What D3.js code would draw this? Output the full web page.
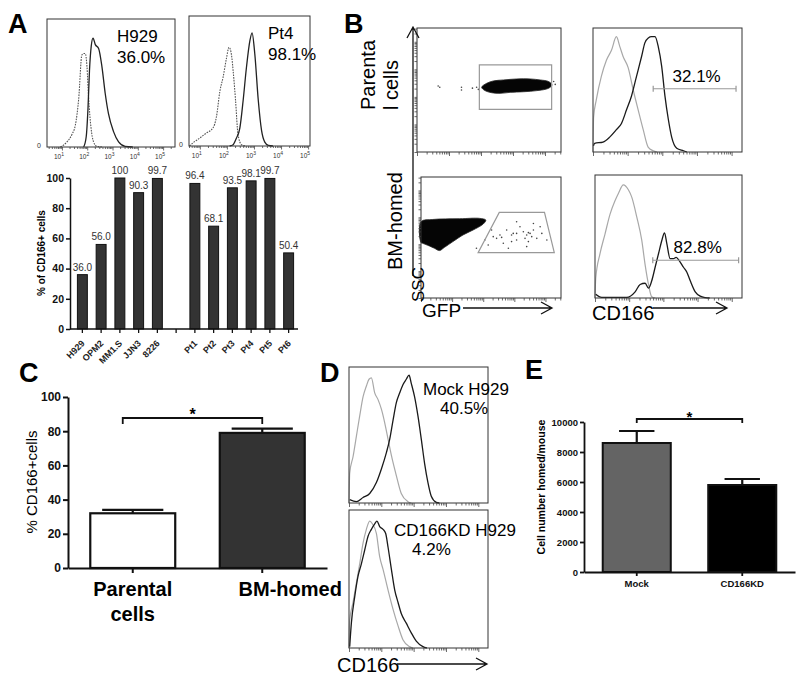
<!DOCTYPE html>
<html><head><meta charset="utf-8">
<script src="https://cdn.jsdelivr.net/npm/d3@7"></script>
<style>
body{margin:0;background:#fff}
svg{display:block}
text{font-family:"Liberation Sans",Arial,Helvetica,sans-serif}
</style>
</head><body>
<svg id="c" width="800" height="680"></svg>
<script>
// ================= DATA =================
// Panel A histograms  [log10 fluorescence, % of max]
const aH929Iso   = [[0.94,0],[1.2,4],[1.4,10],[1.53,17],[1.66,37],[1.79,72],[1.86,73],[1.92,73],[1.99,63],[2.05,40],[2.15,15],[2.25,4],[2.38,0.5],[2.6,0]];
const aH929CD166 = [[1.86,0],[1.96,8],[2.03,30],[2.09,60],[2.16,79],[2.23,85],[2.32,80],[2.45,77],[2.58,63],[2.71,42],[2.84,26],[3.04,12],[3.24,4],[3.5,0.5],[3.8,0]];
const aPt4Iso    = [[0.62,0],[0.75,2.5],[0.99,6],[1.24,10],[1.49,14],[1.61,22],[1.74,42],[1.86,53],[1.98,67],[2.08,76],[2.17,70],[2.23,58],[2.32,35],[2.41,9],[2.54,1],[2.7,0]];
const aPt4CD166  = [[2.1,0],[2.23,1],[2.35,6],[2.48,14],[2.6,35],[2.72,60],[2.85,81],[2.93,87],[3.03,71],[3.16,35],[3.28,12],[3.4,3],[3.53,0.5],[3.7,0]];
const aHistTickPowers = [1,2,3,4,5];
const aHistTexts = [["H929","36.0%"],["Pt4","98.1%"]];

// Panel A bar chart
const aBarCategories = ["H929","OPM2","MM1.S","JJN3","8226","Pt1","Pt2","Pt3","Pt4","Pt5","Pt6"];
const aBarValues     = [36.0,56.0,100,90.3,99.7,96.4,68.1,93.5,98.1,99.7,50.4];
const aBarLabels     = ["36.0","56.0","100","90.3","99.7","96.4","68.1","93.5","98.1","99.7","50.4"];
const aBarTicks      = [0,20,40,60,80,100];

// Panel B dot plots (x: GFP, y: SSC, both 0-100 channel %)
const bTopBlob = [[44.9,52.2],[48.4,55.4],[53,57.3],[60,58.1],[69.3,58.9],[78.6,58.9],[85.6,58.1],[91.4,56.8],[93.7,54.1],[91.4,51.4],[83.3,49.5],[74,48.6],[64.7,48.1],[57.7,47.3],[51.9,47.8],[47.2,49.5]];
const bTopDots = [[15.8,52.2],[14.7,53.2],[30.9,52.2],[30.9,50],[41.4,52.2],[94.9,56.8],[42.6,50.5],[38.5,51.5],[96,54.5]];
const bTopGate = [[43.3,70.3],[93.5,70.3],[93.5,34.3],[43.3,34.3]];
const bBotBlob = [[0,63],[8.4,64.9],[27.6,65.5],[42,65.8],[46.3,64.4],[44.4,61.1],[37.2,56.2],[30,52.1],[22.8,46.6],[16.8,41.9],[13.2,39.2],[9.6,41.1],[6,43],[1.2,45.2],[0,45.8]];
const bBotDots = [[51.6,50.7],[54,49.3],[56.4,52.1],[61.2,56.2],[65.9,53.4],[68.3,47.9],[73.1,54.8],[75.5,52.1],[77.9,53.4],[80.3,56.2],[82.7,49.3],[86.3,53.4],[70.7,58.9],[58.8,45.2],[64.7,46.6],[76.7,46.6],[48,43.8],[89.9,47.9],[50.4,56.2],[68.3,63],[80.3,61.6],[85.1,58.9],[62.4,41.1],[75.5,42.5],[45.6,47.9],[39.6,41.1],[79.1,50.7],[74.3,49.3],[76.7,54],[57.6,50.1],[64.7,52.1],[68.3,53.4]];
const bBotGate = [[55.9,70.7],[88.2,70.7],[95.2,37.5],[40.8,37.5]];
const bRowLabels = [["Parenta","l cells"],["BM-homed"]];

// Panel B histograms (x: CD166 channel %, y: % of max)
const bTopIso   = [[0,0],[0.4,28],[2.2,42],[5.6,61],[9,74],[12.4,82],[15.7,93],[18,85],[20.2,77],[23.6,68],[27,50],[30.3,34],[33.7,18],[37,4],[40.4,1],[43,0]];
const bTopCD166 = [[0.3,5],[1.1,7],[6.7,8],[11.2,12],[15.7,18],[19.1,23],[22.5,34],[25.8,45],[29.2,61],[32.6,77],[34.8,88],[37.1,92],[39.3,93],[41.6,93],[43.8,85],[46.1,69],[48.3,45],[50.6,26],[52.8,12],[56.2,3],[60.7,1],[63,0]];
const bBotIso   = [[0,0],[0.5,16],[3.4,36],[6.8,52],[10.2,68],[13.6,79],[15.9,85],[19.3,92],[22.7,88],[25,82],[28.4,66],[31.8,47],[34.1,27],[36.4,11],[38.6,1],[41,0]];
const bBotCD166 = [[0.5,3],[4.5,0.5],[21.6,0.5],[27.3,5],[30.7,11],[34.1,12],[36.4,8],[38.6,14],[40.9,25],[43.2,36],[45.5,47],[47.3,53],[48.9,44],[51.1,32],[53.4,32],[55.2,33],[57.5,30],[60.2,25],[62.5,21],[64.8,14],[68.2,5],[71.6,1.5],[75,0.3],[78,0]];
const bGates    = [[40.4,96,51],[39.3,97.7,30.7]];
const bPercents = ["32.1%","82.8%"];

// Panel C
const cCategories = ["Parental","BM-homed"];
const cValues = [32, 79];
const cErrors = [2, 2.5];
const cTicks  = [0,20,40,60,80,100];

// Panel D histograms
const dTopIso   = [[0,0],[0.5,22],[2.9,34],[5.3,49],[7.7,64],[10.1,78],[12.5,86],[14.4,91],[16.1,92],[18.5,81],[20.9,76],[23.3,69],[25.7,59],[28.1,47],[30.5,35],[34.1,20],[37.6,7],[42.4,1],[44.8,0]];
const dTopCD166 = [[0.5,2.5],[5.3,1],[10.1,4],[14.9,7],[19.7,15],[23.3,25],[26.9,37],[29.3,47],[31.7,61],[34.1,74],[36.5,81],[38.8,87],[41.2,91],[43.2,94],[44.8,88],[47.2,78],[49.6,64],[52,47],[54.4,29],[56.8,15],[59.2,5],[62.8,0.5],[65,0]];
const dBotIso   = [[0,0],[0.5,20],[2.9,33],[5.3,47],[7.7,61],[10.1,76],[12.5,86],[14.9,92],[16.8,90],[19.7,83],[22.1,66],[24.5,57],[28.1,42],[31.7,28],[35.3,16],[38.8,6],[43.6,1],[46,0]];
const dBotCD166 = [[0.5,1],[1.7,18],[4.1,37],[6.5,52],[8.9,61],[11.3,71],[13.7,81],[16.1,86],[18.5,90],[20.1,92],[22.1,88],[24.5,86],[26.4,83],[28.1,73],[30.5,57],[32.9,42],[35.3,33],[37.6,25],[41.2,18],[44.8,11],[48.4,5],[53.2,1],[56,0]];
const dTexts = [["Mock H929","40.5%"],["CD166KD H929","4.2%"]];

// Panel E
const eCategories = ["Mock","CD166KD"];
const eValues = [8600, 5800];
const eErrors = [800, 400];
const eTicks  = [0,2000,4000,6000,8000,10000];

// ================= DRAW =================
const svg = d3.select("#c");
const FONT = '"Liberation Sans",Arial,sans-serif';

function label(t,x,y,size,opt={}){
  const el = svg.append("text").attr("x",x).attr("y",y).attr("font-size",size).text(t);
  if(opt.bold) el.attr("font-weight","bold");
  if(opt.anchor) el.attr("text-anchor",opt.anchor);
  if(opt.fill) el.attr("fill",opt.fill);
  return el;
}
function rlabel(t,x,y,size,opt={}){
  const el = svg.append("text").attr("transform",`translate(${x},${y}) rotate(-90)`).attr("font-size",size).text(t);
  if(opt.bold) el.attr("font-weight","bold");
  el.attr("text-anchor",opt.anchor||"start");
  return el;
}
function arrowH(x0,x1,y){
  svg.append("path").attr("d",`M${x0},${y}H${x1}M${x1-11},${y-6}L${x1},${y}L${x1-11},${y+6}`).attr("fill","none").attr("stroke","#111").attr("stroke-width",1.3);
}
function arrowV(x,y0,y1){
  svg.append("path").attr("d",`M${x},${y0}V${y1}M${x-6},${y1+11}L${x},${y1}L${x+6},${y1+11}`).attr("fill","none").attr("stroke","#111").attr("stroke-width",1.3);
}
function minorTicksBottom(x0,x1,y,lo,hi,size){
  const s = d3.scaleLog().domain([Math.pow(10,lo),Math.pow(10,hi)]).range([x0,x1]);
  const g = svg.append("g").attr("transform",`translate(0,${y})`)
    .call(d3.axisBottom(s).tickFormat("").tickSizeOuter(0).tickSize(size||2.5));
  g.select(".domain").remove();
  g.selectAll("line").attr("stroke","#444").attr("stroke-width",0.8);
  g.selectAll(".tick").filter(d=>Math.abs(Math.log10(d)-Math.round(Math.log10(d)))<1e-6).select("line").attr("y2",(size||2.5)+1.5);
  return s;
}
function minorTicksLeft(x,y0,y1,lo,hi){
  const s = d3.scaleLog().domain([Math.pow(10,lo),Math.pow(10,hi)]).range([y1,y0]);
  const g = svg.append("g").attr("transform",`translate(${x},0)`)
    .call(d3.axisLeft(s).tickFormat("").tickSizeOuter(0).tickSize(2.5));
  g.select(".domain").remove();
  g.selectAll("line").attr("stroke","#444").attr("stroke-width",0.8);
}
function histogram(box, xDomain, series){
  const x = d3.scaleLinear().domain(xDomain).range([box.x0,box.x1]);
  const y = d3.scaleLinear().domain([0,100]).range([box.y1,box.y0]);
  const line = d3.line().x(d=>x(d[0])).y(d=>y(d[1])).curve(d3.curveMonotoneX);
  series.forEach(s=>{
    svg.append("path").datum(s.data).attr("d",line).attr("fill","none")
      .attr("stroke",s.color).attr("stroke-width",s.w||1.2).attr("stroke-dasharray",s.dash||null);
  });
  svg.append("rect").attr("x",box.x0).attr("y",box.y0).attr("width",box.x1-box.x0).attr("height",box.y1-box.y0)
    .attr("fill","none").attr("stroke","#333").attr("stroke-width",1);
  return {x,y};
}

// ---------- panel letters ----------
label("A",8,33,27,{bold:true});
label("B",344,33,27,{bold:true});
label("C",19,382,27,{bold:true});
label("D",320,382,27,{bold:true});
label("E",525,379,27,{bold:true});

// ---------- Panel A histograms ----------
[
  {box:{x0:47,x1:175,y0:19,y1:147}, dom:[0.41,5.47], iso:aH929Iso, pos:aH929CD166, txt:aHistTexts[0], tx:117},
  {box:{x0:189,x1:310,y0:16,y1:146}, dom:[0.6,5.07], iso:aPt4Iso, pos:aPt4CD166, txt:aHistTexts[1], tx:268}
].forEach(p=>{
  histogram(p.box,p.dom,[
    {data:p.iso,color:"#555",dash:"1.6,1.1",w:1.1},
    {data:p.pos,color:"#222",w:1.3}
  ]);
  const ls = minorTicksBottom(p.box.x0,p.box.x1,p.box.y1,p.dom[0],p.dom[1],2);
  aHistTickPowers.forEach(k=>{
    const xx = ls(Math.pow(10,k));
    const t = svg.append("text").attr("x",xx-3).attr("y",p.box.y1+12).attr("font-size",6.5).attr("fill","#333").attr("text-anchor","middle").text("10");
    t.append("tspan").attr("font-size",5).attr("dy",-3).text(k);
  });
  label("0",p.box.x0-6,p.box.y1+1,7,{anchor:"end",fill:"#333"});
  label(p.txt[0],p.tx,p.box.y0+23,17);
  label(p.txt[1],p.tx,p.box.y0+44,17);
});

// ---------- Panel A bar chart ----------
const aSlots = [...aBarCategories.slice(0,5),"gap",...aBarCategories.slice(5)];
const axb = d3.scaleBand().domain(aSlots).range([73,298]).paddingInner(0.47).paddingOuter(0.235);
const ayb = d3.scaleLinear().domain([0,100]).range([329,178]);
const aBarData = aBarCategories.map((c,i)=>({c,v:aBarValues[i],l:aBarLabels[i]}));
svg.append("g").selectAll("rect").data(aBarData).join("rect")
  .attr("x",d=>axb(d.c)).attr("width",axb.bandwidth()).attr("y",d=>ayb(d.v)).attr("height",d=>329-ayb(d.v))
  .attr("fill","#333").attr("stroke","#111").attr("stroke-width",1);
svg.append("g").selectAll("text").data(aBarData).join("text")
  .attr("x",d=>axb(d.c)+axb.bandwidth()/2).attr("y",d=>ayb(d.v)-4).attr("text-anchor","middle")
  .attr("font-size",10).attr("fill","#333").text(d=>d.l);
const gAy = svg.append("g").attr("transform","translate(70,0)")
  .call(d3.axisLeft(ayb).tickValues(aBarTicks).tickSize(4).tickSizeOuter(0).tickPadding(2));
gAy.selectAll("text").attr("font-size",10.5).attr("font-weight","bold").attr("fill","#111").attr("font-family",FONT);
gAy.selectAll("path,line").attr("stroke","#111").attr("stroke-width",1.5);
const gAx = svg.append("g").attr("transform","translate(0,329)")
  .call(d3.axisBottom(axb).tickSize(4).tickSizeOuter(0).tickFormat(""));
gAx.select(".domain").remove();
gAx.selectAll("line").attr("stroke","#111").attr("stroke-width",1.3);
svg.append("line").attr("x1",70).attr("x2",298).attr("y1",329).attr("y2",329).attr("stroke","#111").attr("stroke-width",1.5);
aBarCategories.forEach(c=>{
  svg.append("text").attr("transform",`translate(${axb(c)+axb.bandwidth()/2+3},344) rotate(-45)`)
    .attr("text-anchor","end").attr("font-size",9).attr("font-weight","bold").attr("fill","#222").text(c);
});
rlabel("% of CD166+ cells",45,253,10,{bold:true,anchor:"middle"});

// ---------- Panel B dot plots ----------
[
  {box:{x0:417,x1:561,y0:28,y1:152}, blob:bTopBlob, dots:bTopDots, gate:bTopGate},
  {box:{x0:421,x1:561,y0:177,y1:298}, blob:bBotBlob, dots:bBotDots, gate:bBotGate}
].forEach(p=>{
  const x = d3.scaleLinear().domain([0,100]).range([p.box.x0,p.box.x1]);
  const y = d3.scaleLinear().domain([0,100]).range([p.box.y1,p.box.y0]);
  svg.append("path").datum(p.blob).attr("d",d3.line().x(d=>x(d[0])).y(d=>y(d[1])).curve(d3.curveCatmullRomClosed))
    .attr("fill","#050505").attr("stroke","#222").attr("stroke-width",0.8);
  svg.append("g").selectAll("circle").data(p.dots).join("circle")
    .attr("cx",d=>x(d[0])).attr("cy",d=>y(d[1])).attr("r",0.8).attr("fill","#444");
  svg.append("path").datum(p.gate).attr("d",d3.line().x(d=>x(d[0])).y(d=>y(d[1])).curve(d3.curveLinearClosed))
    .attr("fill","none").attr("stroke","#999").attr("stroke-width",1.2);
  svg.append("rect").attr("x",p.box.x0).attr("y",p.box.y0).attr("width",p.box.x1-p.box.x0).attr("height",p.box.y1-p.box.y0)
    .attr("fill","none").attr("stroke","#333").attr("stroke-width",1);
  minorTicksBottom(p.box.x0,p.box.x1,p.box.y1,0,4.5,2.5);
  minorTicksLeft(p.box.x0,p.box.y0,p.box.y1,0,4.5);
});
arrowV(413,276,27);
arrowH(463,552,308);
rlabel(bRowLabels[0][0],375,110,20);
rlabel(bRowLabels[0][1],398,110,20);
rlabel(bRowLabels[1][0],402,270,20);
rlabel("SSC",424,302,17);
label("GFP",422,317,19);

// ---------- Panel B histograms ----------
[
  {box:{x0:593,x1:742,y0:28,y1:152}, iso:bTopIso, pos:bTopCD166, gate:bGates[0], pct:bPercents[0]},
  {box:{x0:595,x1:742,y0:175,y1:298}, iso:bBotIso, pos:bBotCD166, gate:bGates[1], pct:bPercents[1]}
].forEach(p=>{
  const sc = histogram(p.box,[0,100],[
    {data:p.iso,color:"#a8a8a8",w:1.2},
    {data:p.pos,color:"#1a1a1a",w:1.3}
  ]);
  minorTicksBottom(p.box.x0,p.box.x1,p.box.y1,0,4.3,2.5);
  const gx0 = sc.x(p.gate[0]), gx1 = sc.x(p.gate[1]), gy = sc.y(p.gate[2]);
  svg.append("path").attr("d",`M${gx0},${gy}H${gx1}M${gx0},${gy-3}V${gy+3}M${gx1},${gy-3}V${gy+3}`)
    .attr("stroke","#999").attr("stroke-width",1.2).attr("fill","none");
  label(p.pct,(gx0+gx1)/2+2,gy-7,17,{anchor:"middle"});
});
label("CD166",592,320,20);
arrowH(653,727,308);

// ---------- Panel C ----------
const cx = d3.scaleBand().domain(cCategories).range([68,327]).paddingInner(0.344).paddingOuter(0.172);
const cy = d3.scaleLinear().domain([0,100]).range([568,397]);
const cFill = ["#ffffff","#333333"];
cCategories.forEach((c,i)=>{
  const xc = cx(c)+cx.bandwidth()/2;
  const capW = cx.bandwidth()*0.36;
  svg.append("path").attr("d",`M${xc},${cy(cValues[i])}V${cy(cValues[i]+cErrors[i])}M${xc-capW},${cy(cValues[i]+cErrors[i])}H${xc+capW}`)
    .attr("stroke","#111").attr("stroke-width",2.2).attr("fill","none");
  svg.append("rect").attr("x",cx(c)).attr("width",cx.bandwidth()).attr("y",cy(cValues[i])).attr("height",568-cy(cValues[i]))
    .attr("fill",cFill[i]).attr("stroke","#111").attr("stroke-width",2.2);
});
const gCy = svg.append("g").attr("transform","translate(68,0)")
  .call(d3.axisLeft(cy).tickValues(cTicks).tickSize(5).tickSizeOuter(0).tickPadding(2));
gCy.selectAll("text").attr("font-size",12).attr("font-weight","bold").attr("fill","#111").attr("font-family",FONT);
gCy.selectAll("path,line").attr("stroke","#111").attr("stroke-width",2);
const gCx = svg.append("g").attr("transform","translate(0,568)")
  .call(d3.axisBottom(cx).tickSize(5).tickSizeOuter(0).tickFormat(""));
gCx.select(".domain").attr("stroke","#111").attr("stroke-width",2);
gCx.selectAll("line").attr("stroke","#111").attr("stroke-width",2);
{
  const xa = cx(cCategories[0])+cx.bandwidth()/2-10, xb = cx(cCategories[1])+cx.bandwidth()/2;
  svg.append("path").attr("d",`M${xa},${424}V${418}H${xb}V${424}`).attr("fill","none").attr("stroke","#111").attr("stroke-width",1.8);
  label("*",(xa+xb)/2,420,16,{anchor:"middle",bold:true});
}
label("Parental",cx("Parental")+cx.bandwidth()/2,596,20,{bold:true,anchor:"middle"});
label("cells",cx("Parental")+cx.bandwidth()/2,621,20,{bold:true,anchor:"middle"});
label("BM-homed",cx("BM-homed")+cx.bandwidth()/2+28,596,20,{bold:true,anchor:"middle"});
rlabel("% CD166+cells",37,482,15,{anchor:"middle"});

// ---------- Panel D ----------
[
  {box:{x0:349,x1:488,y0:367,y1:503}, iso:dTopIso, pos:dTopCD166, txt:dTexts[0], t1:[423,395], t2:[440,414]},
  {box:{x0:349,x1:488,y0:510,y1:648}, iso:dBotIso, pos:dBotCD166, txt:dTexts[1], t1:[394,536], t2:[412,555]}
].forEach(p=>{
  histogram(p.box,[0,100],[
    {data:p.iso,color:"#a8a8a8",w:1.2},
    {data:p.pos,color:"#1a1a1a",w:1.3}
  ]);
  minorTicksBottom(p.box.x0,p.box.x1,p.box.y1,0,4.3,2.5);
  label(p.txt[0],p.t1[0],p.t1[1],17);
  label(p.txt[1],p.t2[0],p.t2[1],17);
});
label("CD166",337,672,20);
arrowH(397,487,664);

// ---------- Panel E ----------
const ex = d3.scaleBand().domain(eCategories).range([584,795]).paddingInner(0.355).paddingOuter(0.1775);
const ey = d3.scaleLinear().domain([0,10000]).range([572,422]);
const eFill = ["#646464","#000000"];
eCategories.forEach((c,i)=>{
  const xc = ex(c)+ex.bandwidth()/2;
  const capW = ex.bandwidth()*0.26;
  svg.append("path").attr("d",`M${xc},${ey(eValues[i])}V${ey(eValues[i]+eErrors[i])}M${xc-capW},${ey(eValues[i]+eErrors[i])}H${xc+capW}`)
    .attr("stroke","#111").attr("stroke-width",2.2).attr("fill","none");
  svg.append("rect").attr("x",ex(c)).attr("width",ex.bandwidth()).attr("y",ey(eValues[i])).attr("height",572-ey(eValues[i]))
    .attr("fill",eFill[i]).attr("stroke","#111").attr("stroke-width",2);
});
const gEy = svg.append("g").attr("transform","translate(584,0)")
  .call(d3.axisLeft(ey).tickValues(eTicks).tickFormat(d3.format("d")).tickSize(4).tickSizeOuter(0).tickPadding(2));
gEy.selectAll("text").attr("font-size",9.5).attr("font-weight","bold").attr("fill","#111").attr("font-family",FONT);
gEy.selectAll("path,line").attr("stroke","#111").attr("stroke-width",1.8);
const gEx = svg.append("g").attr("transform","translate(0,572)")
  .call(d3.axisBottom(ex).tickSize(4).tickSizeOuter(0).tickPadding(4));
gEx.selectAll("text").attr("font-size",9.5).attr("font-weight","bold").attr("fill","#111").attr("font-family",FONT);
gEx.selectAll("path,line").attr("stroke","#111").attr("stroke-width",1.8);
{
  const xa = ex(eCategories[0])+ex.bandwidth()/2, xb = ex(eCategories[1])+ex.bandwidth()/2;
  svg.append("path").attr("d",`M${xa},${423}V${419}H${xb}V${423}`).attr("fill","none").attr("stroke","#111").attr("stroke-width",1.8);
  label("*",(xa+xb)/2,422,15,{anchor:"middle",bold:true});
}
rlabel("Cell number homed/mouse",545,487,10.5,{bold:true,anchor:"middle"});
</script>
</body></html>
